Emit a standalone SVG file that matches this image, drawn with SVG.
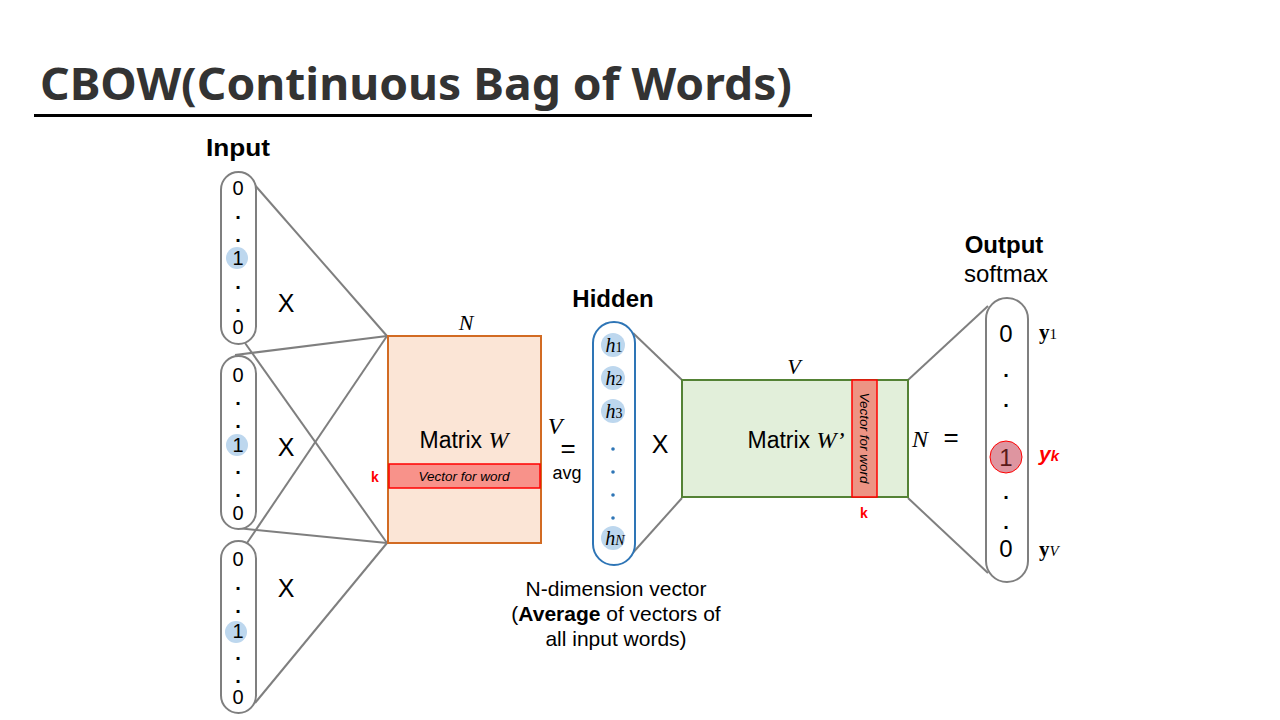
<svg xmlns="http://www.w3.org/2000/svg" width="1280" height="720" viewBox="0 0 1280 720">
<style>
.t{font-family:"Liberation Sans",Arial,sans-serif;fill:#000}
.m{font-family:"Liberation Serif","Times New Roman",serif;font-style:italic;fill:#000}
.cap{fill:#fff;stroke:#7f7f7f;stroke-width:2}
.ln{stroke:#7f7f7f;stroke-width:2;fill:none}
.bc{fill:#bdd7ee}
.num{font-family:"Liberation Sans",Arial,sans-serif;font-size:20px;text-anchor:middle;fill:#000}
.dot{font-family:"Liberation Sans",Arial,sans-serif;font-size:20px;text-anchor:middle;fill:#000;font-weight:bold}
.red{fill:#ff0000;font-family:"Liberation Sans",Arial,sans-serif;font-weight:bold}
</style>
<rect width="1280" height="720" fill="#fff"/>
<g id="title">
<text x="40" y="100" font-family="'Noto Sans','Liberation Sans',sans-serif" font-weight="bold" font-size="45" fill="#333" textLength="752" lengthAdjust="spacingAndGlyphs">CBOW(Continuous Bag of Words)</text>
<rect x="34" y="114" width="778" height="3" fill="#000"/>
</g>
<g id="connectors">
<line class="ln" x1="253" y1="183" x2="387" y2="336"/>
<line class="ln" x1="245" y1="343" x2="387" y2="543"/>
<line class="ln" x1="235" y1="355" x2="387" y2="336"/>
<line class="ln" x1="237" y1="528" x2="387" y2="543"/>
<line class="ln" x1="247" y1="543" x2="387" y2="336"/>
<line class="ln" x1="255" y1="703" x2="387" y2="543"/>
<line class="ln" x1="633" y1="333" x2="682" y2="380"/>
<line class="ln" x1="630" y1="556" x2="682" y2="498"/>
<line class="ln" x1="908" y1="380" x2="988" y2="306"/>
<line class="ln" x1="908" y1="498" x2="988" y2="573"/>
</g>
<g id="input-label"><text x="238" y="156" text-anchor="middle" class="t" font-weight="bold" font-size="23" fill="#111" textLength="64" lengthAdjust="spacingAndGlyphs">Input</text></g>
<g id="input1">
<rect class="cap" x="221" y="172" width="35" height="172" rx="17.5"/>
<circle class="bc" cx="237" cy="258" r="11"/>
<text class="num" x="238" y="195">0</text>
<text class="dot" x="238" y="219">.</text>
<text class="dot" x="238" y="242">.</text>
<text class="num" x="238" y="265">1</text>
<text class="dot" x="238" y="289">.</text>
<text class="dot" x="238" y="312">.</text>
<text class="num" x="238" y="334">0</text>
<text class="t" x="286" y="312" text-anchor="middle" font-size="25">X</text>
</g>
<g id="input2">
<rect class="cap" x="221" y="356" width="35" height="173" rx="17.5"/>
<circle class="bc" cx="237" cy="445" r="11"/>
<text class="num" x="238" y="382">0</text>
<text class="dot" x="238" y="405">.</text>
<text class="dot" x="238" y="428">.</text>
<text class="num" x="238" y="452">1</text>
<text class="dot" x="238" y="474">.</text>
<text class="dot" x="238" y="497">.</text>
<text class="num" x="238" y="520">0</text>
<text class="t" x="286" y="456" text-anchor="middle" font-size="25">X</text>
</g>
<g id="input3">
<rect class="cap" x="221" y="541" width="35" height="172" rx="17.5"/>
<circle class="bc" cx="236" cy="632" r="11"/>
<text class="num" x="238" y="566">0</text>
<text class="dot" x="238" y="590">.</text>
<text class="dot" x="238" y="613">.</text>
<text class="num" x="238" y="638">1</text>
<text class="dot" x="238" y="660">.</text>
<text class="dot" x="238" y="683">.</text>
<text class="num" x="238" y="704">0</text>
<text class="t" x="286" y="597" text-anchor="middle" font-size="25">X</text>
</g>
<g id="matrixW">
<rect x="388" y="336" width="153" height="207" fill="#fbe5d6" stroke="#d26b23" stroke-width="2"/>
<text class="m" x="466" y="330" text-anchor="middle" font-size="22">N</text>
<text class="t" x="464" y="448" text-anchor="middle" font-size="23">Matrix <tspan class="m" font-size="24">W</tspan></text>
<rect x="389" y="464" width="151" height="24" fill="#f8928a" stroke="#ff0000" stroke-width="1.5"/>
<text class="t" x="464" y="481" text-anchor="middle" font-size="13.5" font-style="italic">Vector  for word</text>
<text class="red" x="375" y="482" text-anchor="middle" font-size="14">k</text>
</g>
<g id="eq1">
<text class="m" x="555" y="434" text-anchor="middle" font-size="24">V</text>
<text class="t" x="568" y="457" text-anchor="middle" font-size="26">=</text>
<text class="t" x="567" y="479" text-anchor="middle" font-size="18">avg</text>
</g>
<g id="hidden">
<text class="t" x="613" y="307" text-anchor="middle" font-weight="bold" font-size="24">Hidden</text>
<rect x="593" y="322" width="42" height="243" rx="21" fill="#fff" stroke="#2e75b6" stroke-width="2"/>
<circle class="bc" cx="613" cy="345" r="12"/>
<circle class="bc" cx="613" cy="378" r="12"/>
<circle class="bc" cx="613" cy="411" r="12"/>
<circle class="bc" cx="613" cy="538" r="12"/>
<text class="m" x="614" y="352" text-anchor="middle" font-size="20">h<tspan font-style="normal" font-size="14">1</tspan></text>
<text class="m" x="614" y="385" text-anchor="middle" font-size="20">h<tspan font-style="normal" font-size="14">2</tspan></text>
<text class="m" x="614" y="418" text-anchor="middle" font-size="20">h<tspan font-style="normal" font-size="14">3</tspan></text>
<text class="m" x="615" y="545" text-anchor="middle" font-size="20">h<tspan font-size="14">N</tspan></text>
<circle cx="613" cy="449" r="1.8" fill="#2e75b6"/>
<circle cx="613" cy="472" r="1.8" fill="#2e75b6"/>
<circle cx="613" cy="495" r="1.8" fill="#2e75b6"/>
<circle cx="613" cy="518" r="1.8" fill="#2e75b6"/>
<text class="t" x="660" y="453" text-anchor="middle" font-size="25">X</text>
<text class="t" x="616" y="596" text-anchor="middle" font-size="21">N-dimension vector</text>
<text class="t" x="616" y="621" text-anchor="middle" font-size="21">(<tspan font-weight="bold">Average</tspan> of vectors of</text>
<text class="t" x="616" y="646" text-anchor="middle" font-size="21">all input words)</text>
</g>
<g id="matrixW2">
<rect x="682" y="380" width="226" height="117" fill="#e2efda" stroke="#548235" stroke-width="2"/>
<text class="m" x="794" y="374" text-anchor="middle" font-size="22">V</text>
<text class="t" x="796" y="448" text-anchor="middle" font-size="23">Matrix <tspan class="m" font-size="24">W’</tspan></text>
<rect x="852" y="380" width="25" height="117" fill="#ed9484" stroke="#ff0000" stroke-width="1.5"/>
<text class="t" transform="translate(860,438) rotate(90)" text-anchor="middle" font-size="13.5" font-style="italic">Vector  for word</text>
<text class="red" x="864" y="518" text-anchor="middle" font-size="14">k</text>
</g>
<g id="eq2">
<text class="m" x="920" y="447" text-anchor="middle" font-size="24">N</text>
<text class="t" x="951" y="446" text-anchor="middle" font-size="26">=</text>
</g>
<g id="output">
<text class="t" x="1004" y="253" text-anchor="middle" font-weight="bold" font-size="24">Output</text>
<text class="t" x="1006" y="282" text-anchor="middle" font-size="24">softmax</text>
<rect class="cap" x="986" y="298" width="42" height="284" rx="21"/>
<circle cx="1006" cy="457" r="16" fill="#d8838f" fill-opacity="0.85" stroke="#ff0000" stroke-width="1"/>
<text class="num" x="1006" y="342" style="font-size:24px">0</text>
<text class="dot" x="1006" y="377">.</text>
<text class="dot" x="1006" y="407">.</text>
<text class="num" x="1006" y="466" style="font-size:24px;fill:#5a1a1a">1</text>
<text class="dot" x="1006" y="499">.</text>
<text class="dot" x="1006" y="529">.</text>
<text class="num" x="1006" y="557" style="font-size:24px">0</text>
<text x="1039" y="339" font-family="'Liberation Serif',serif" font-weight="bold" font-size="21" fill="#000">y<tspan font-weight="normal" font-size="15">1</tspan></text>
<text x="1039" y="461" font-family="'Liberation Sans',Arial,sans-serif" font-weight="bold" font-style="italic" font-size="21" fill="#ff0000">y<tspan font-size="15">k</tspan></text>
<text x="1039" y="556" font-family="'Liberation Serif',serif" font-weight="bold" font-size="21" fill="#000">y<tspan font-weight="normal" font-style="italic" font-size="15">V</tspan></text>
</g>
</svg>
